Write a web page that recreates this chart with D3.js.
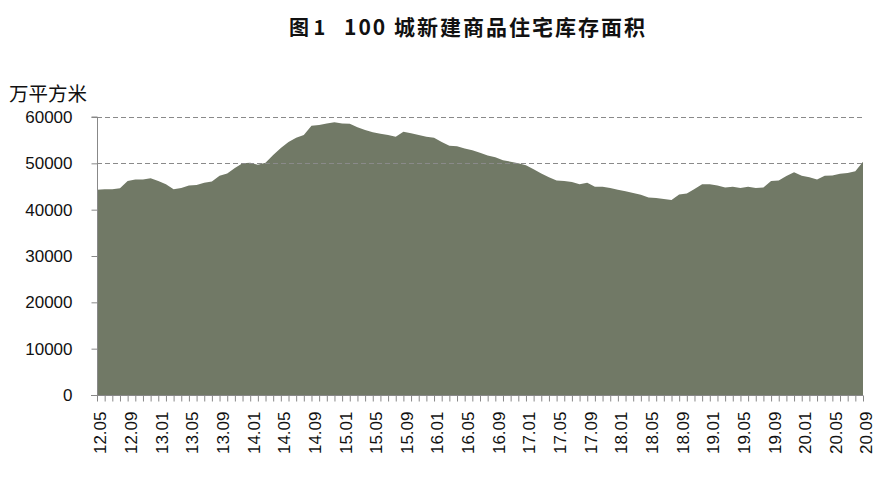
<!DOCTYPE html>
<html>
<head>
<meta charset="utf-8">
<script src="https://cdn.jsdelivr.net/npm/d3@7"></script>
<style>
  html, body { margin: 0; padding: 0; background: #fff; }
  svg { display: block; }
</style>
</head>
<body>
<svg id="chart" width="891" height="477"></svg>
<script>
// ---- data ----
const titlePrefix = "图 1";
const titleMain = "100 城新建商品住宅库存面积";
const unitLabel = "万平方米";

// monthly categories 2012.05 – 2020.09 (yy.mm)
const months = [];
for (let yy = 12; yy <= 20; yy++) {
  for (let mm = 1; mm <= 12; mm++) {
    if ((yy === 12 && mm < 5) || (yy === 20 && mm > 9)) continue;
    months.push(String(yy).padStart(2, "0") + "." + String(mm).padStart(2, "0"));
  }
}

const inventory = [
  44300, 44400, 44400, 44600, 46200, 46500, 46500, 46800, 46200, 45500,
  44400, 44700, 45200, 45300, 45800, 46100, 47300, 47800, 49000, 50000,
  50100, 49700, 50100, 51800, 53300, 54600, 55500, 56100, 58100, 58300,
  58600, 58850, 58600, 58550, 57800, 57200, 56700, 56400, 56100, 55750,
  56800, 56500, 56100, 55750, 55500, 54600, 53800, 53700, 53200, 52800,
  52300, 51700, 51300, 50650, 50350, 50000, 49600, 48700, 47800, 47000,
  46300, 46200, 45950, 45500, 45800, 44950, 44950, 44700, 44300, 43950,
  43600, 43200, 42600, 42500, 42300, 42100, 43300, 43500, 44450, 45500,
  45500, 45200, 44800, 44950, 44700, 44950, 44700, 44800, 46200, 46300,
  47250, 48100, 47300, 47000, 46500, 47300, 47350, 47750, 47900, 48300,
  50350
];

const yTicks = [0, 10000, 20000, 30000, 40000, 50000, 60000];
const gridValues = [50000, 60000];
const xTickLabels = ["12.05","12.09","13.01","13.05","13.09","14.01","14.05","14.09",
  "15.01","15.05","15.09","16.01","16.05","16.09","17.01","17.05","17.09","18.01",
  "18.05","18.09","19.01","19.05","19.09","20.01","20.05","20.09"];

// ---- layout ----
const svg = d3.select("#chart");
const plotL = 97, plotR = 863, plotT = 117, plotB = 395;
const numFont = "'Liberation Sans', Arial, sans-serif";
const cjkFont = "'Noto Sans CJK SC', sans-serif";

const x = d3.scalePoint().domain(months).range([plotL, plotR]);
const y = d3.scaleLinear().domain([0, 60000]).range([plotB, plotT]);

// title
svg.append("text")
  .attr("x", 289).attr("y", 35)
  .attr("font-family", cjkFont)
  .attr("font-weight", "bold")
  .attr("font-size", 20)
  .attr("fill", "#111")
  .text(titlePrefix);
svg.append("text")
  .attr("x", 344).attr("y", 35)
  .attr("font-family", cjkFont)
  .attr("font-weight", "bold")
  .attr("font-size", 21)
  .attr("letter-spacing", 2)
  .attr("fill", "#111")
  .text(titleMain);

// unit label
svg.append("text")
  .attr("x", 9).attr("y", 101)
  .attr("font-family", cjkFont)
  .attr("font-size", 19.5)
  .attr("fill", "#111")
  .text(unitLabel);

// area
const area = d3.area()
  .x((d, i) => x(months[i]))
  .y0(y(0))
  .y1(d => y(d));

svg.append("path")
  .datum(inventory)
  .attr("d", area)
  .attr("fill", "#717966");

// gridlines
svg.append("g")
  .selectAll("line")
  .data(gridValues)
  .join("line")
  .attr("x1", plotL).attr("x2", plotR)
  .attr("y1", d => Math.round(y(d)) + 0.5).attr("y2", d => Math.round(y(d)) + 0.5)
  .attr("stroke", "#8a8a8a")
  .attr("stroke-width", 1)
  .attr("stroke-dasharray", "5,3");

// y axis
const yAxis = d3.axisLeft(y)
  .tickValues(yTicks)
  .tickSize(6)
  .tickPadding(19)
  .tickFormat(d3.format("d"));

const gy = svg.append("g")
  .attr("transform", `translate(${plotL + 0.5},0)`)
  .call(yAxis);
gy.select(".domain").attr("stroke", "#888").attr("d", `M-6,${plotT}H0V${plotB}`);
gy.selectAll(".tick line").attr("stroke", "#888");
gy.selectAll(".tick text")
  .attr("font-family", numFont)
  .attr("font-size", 17)
  .attr("fill", "#111");

// x axis
const xAxis = d3.axisBottom(x)
  .tickSize(6)
  .tickFormat(d => xTickLabels.includes(d) ? d : "");

const gx = svg.append("g")
  .attr("transform", `translate(0,${plotB + 0.5})`)
  .call(xAxis);
gx.select(".domain").attr("stroke", "#888").attr("d", `M${plotL - 6},0H${plotR}`);
gx.selectAll(".tick line").attr("stroke", "#888");
gx.selectAll(".tick text")
  .attr("font-family", numFont)
  .attr("font-size", 17)
  .attr("fill", "#111")
  .attr("text-anchor", "end")
  .attr("dy", "0.35em")
  .attr("transform", "translate(3,16) rotate(-90)")
  .attr("x", 0).attr("y", 0);
</script>
</body>
</html>
